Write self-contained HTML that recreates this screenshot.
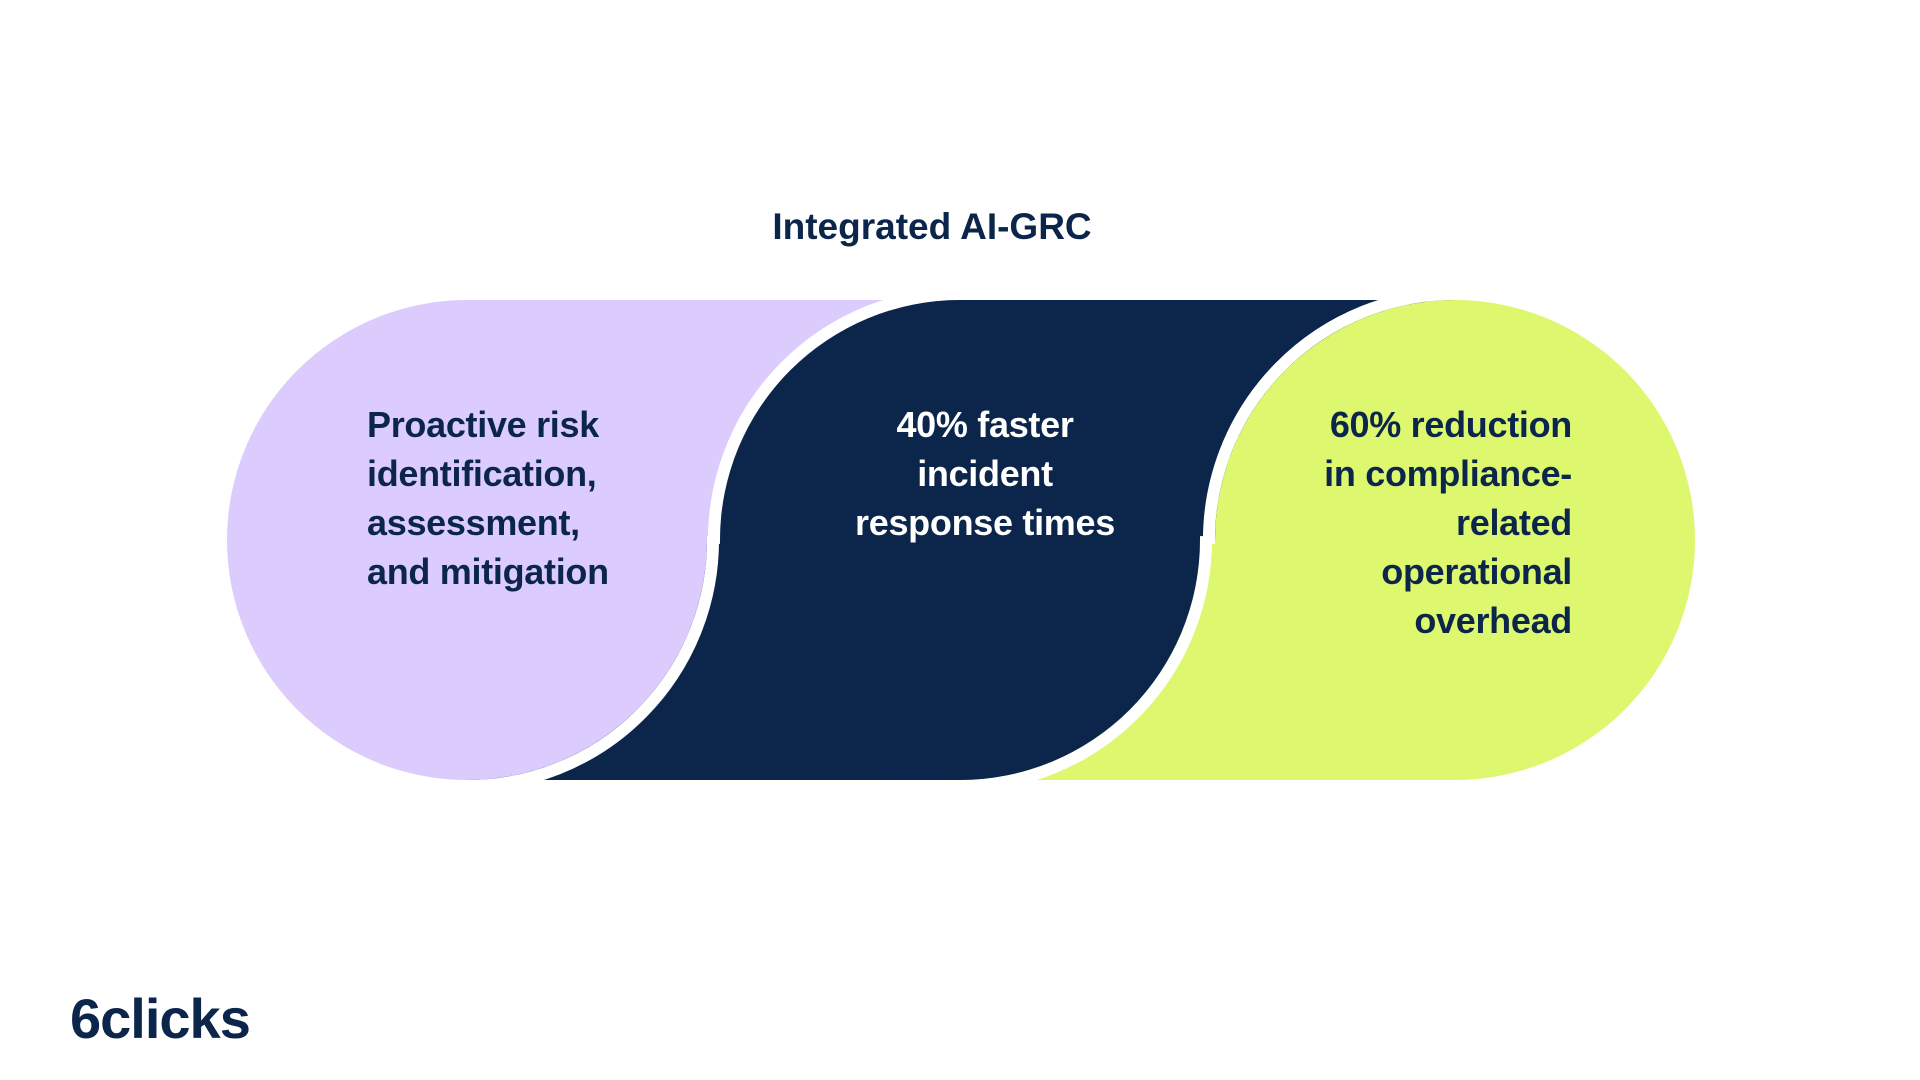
<!DOCTYPE html>
<html><head><meta charset="utf-8"><style>
html,body{margin:0;padding:0;background:#fff;}
body{width:1920px;height:1080px;position:relative;overflow:hidden;font-family:"Liberation Sans",sans-serif;font-weight:bold;color:#0B254B;}
.t{position:absolute;font-size:36px;line-height:49px;letter-spacing:-0.3px;}
</style></head><body>
<svg width="1920" height="1080" style="position:absolute;left:0;top:0">
  <rect x="467" y="300" width="493" height="240" fill="#DCCCFD"/>
  <rect x="467" y="540" width="493" height="240" fill="#0B254B"/>
  <rect x="960" y="300" width="495" height="240" fill="#0B254B"/>
  <rect x="960" y="540" width="495" height="240" fill="#DDF76E"/>
  <path d="M713 536 A246 246 0 0 1 467 786" fill="none" stroke="#fff" stroke-width="12"/>
  <circle cx="467" cy="540" r="240" fill="#DCCCFD"/>
  <path d="M714 544 A246 246 0 0 1 960 294" fill="none" stroke="#fff" stroke-width="12"/>
  <path d="M1206 536 A246 246 0 0 1 960 786" fill="none" stroke="#fff" stroke-width="12"/>
  <circle cx="960" cy="540" r="240" fill="#0B254B"/>
  <path d="M1209 544 A246 246 0 0 1 1455 294" fill="none" stroke="#fff" stroke-width="12"/>
  <circle cx="1455" cy="540" r="240" fill="#DDF76E"/>
</svg>
<div style="position:absolute;left:0;width:1864px;top:206px;text-align:center;font-size:37px;">Integrated AI-GRC</div>
<div class="t" style="left:367px;top:400px;">Proactive risk<br>identification,<br>assessment,<br>and mitigation</div>
<div class="t" style="left:785px;width:400px;top:400px;text-align:center;color:#fff;">40% faster<br>incident<br>response times</div>
<div class="t" style="right:348px;top:400px;text-align:right;">60% reduction<br>in compliance-<br>related<br>operational<br>overhead</div>
<div style="position:absolute;left:70px;top:986px;font-size:56px;letter-spacing:-1px;">6clicks</div>
</body></html>
